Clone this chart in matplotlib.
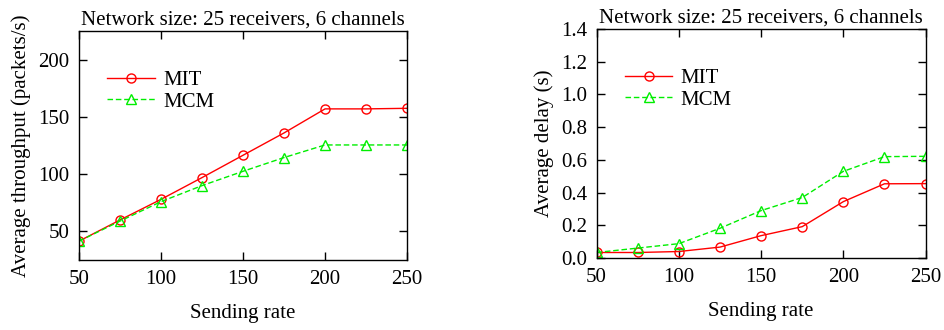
import matplotlib
matplotlib.use('Agg')
import matplotlib.pyplot as plt

# Data
rates = [50, 75, 100, 125, 150, 175, 200, 225, 250]
thr_mit = [41.5, 60, 78, 97, 116.5, 136, 157, 157, 157.5]
thr_mcm = [41.5, 59, 76, 90, 102.5, 114.5, 125.5, 125.5, 125.5]
delay_mit = [0.034, 0.034, 0.040, 0.067, 0.137, 0.192, 0.345, 0.454, 0.455]
delay_mcm = [0.034, 0.061, 0.088, 0.182, 0.290, 0.370, 0.530, 0.620, 0.622]

title = 'Network size: 25 receivers, 6 channels'

plt.rcParams['font.family'] = ['Liberation Serif', 'DejaVu Serif']
plt.rcParams['font.size'] = 15

fig = plt.figure(figsize=(9.44, 3.3), dpi=100)
ax1 = fig.add_axes([0.0837, 0.212, 0.3475, 0.694])
ax2 = fig.add_axes([0.632, 0.218, 0.3485, 0.694])


def draw(ax, y1, y2, ylabel, legend_anchor):
    ax.plot(rates, y1, color='#ff0000', lw=1, marker='o', ms=6.5,
            mfc='none', mec='#ff0000', mew=1, label='MIT')
    ax.plot(rates, y2, color='#00ee00', lw=1, ls=(0, (4, 2)), marker='^', ms=6.5,
            mfc='none', mec='#00ee00', mew=1, label='MCM')
    ax.set_xlim(50, 250)
    ax.set_xticks([50, 100, 150, 200, 250])
    ax.tick_params(direction='in', top=True, right=True, length=6, width=1, pad=7)
    ax.set_xlabel('Sending rate', labelpad=11)
    ax.set_ylabel(ylabel, labelpad=5)
    ax.set_title(title, fontsize=15, pad=5)
    ax.legend(loc='upper left', bbox_to_anchor=legend_anchor, frameon=False,
              handlelength=2.3, handletextpad=0.4, labelspacing=0.1,
              borderaxespad=0, borderpad=0, fontsize=15)
    for s in ax.spines.values():
        s.set_linewidth(1)


draw(ax1, thr_mit, thr_mcm, 'Average throughput (packets/s)', (0.085, 0.828))
ax1.set_ylim(25, 225)
ax1.set_yticks([50, 100, 150, 200])

draw(ax2, delay_mit, delay_mcm, 'Average delay (s)', (0.085, 0.828))
ax2.set_ylim(0, 1.4)
ax2.set_yticks([0.0, 0.2, 0.4, 0.6, 0.8, 1.0, 1.2, 1.4])
ax2.set_yticklabels(['0.0', '0.2', '0.4', '0.6', '0.8', '1.0', '1.2', '1.4'])

fig.savefig('out.png', dpi=100)
